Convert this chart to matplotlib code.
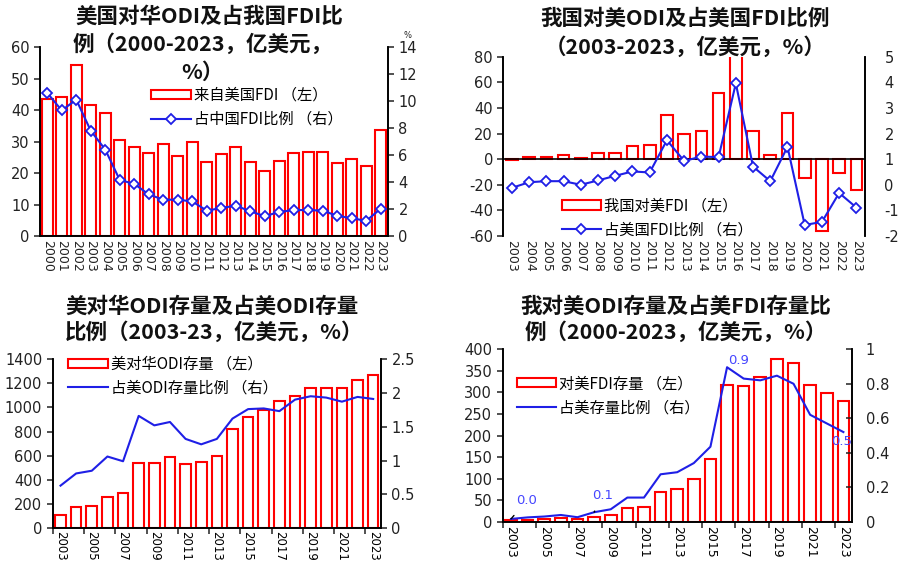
import matplotlib
matplotlib.use('Agg')
import matplotlib.pyplot as plt
from matplotlib.patches import Patch
from matplotlib.lines import Line2D
import numpy as np

plt.rcParams['font.family'] = 'DejaVu Sans'
plt.rcParams['axes.unicode_minus'] = False
CJK = ['Noto Sans CJK SC', 'DejaVu Sans']

# 图1：美国对华ODI及占我国FDI比例
years1 = [str(y) for y in range(2000, 2024)]
us_fdi = [43.6, 44.1, 54.2, 41.7, 39.1, 30.5, 28.4, 26.2, 29.2, 25.5, 29.9, 23.6,
          26.0, 28.2, 23.6, 20.7, 23.8, 26.4, 26.8, 26.8, 23.3, 24.4, 22.2, 33.7]
us_fdi_share = [10.6, 9.3, 10.1, 7.8, 6.4, 4.15, 3.86, 3.08, 2.69, 2.69, 2.56, 1.88,
                2.07, 2.25, 1.83, 1.47, 1.78, 1.92, 1.92, 1.88, 1.49, 1.32, 1.12, 2.03]

# 图2：我国对美ODI及占美国FDI比例
years2 = [str(y) for y in range(2003, 2024)]
cn_odi = [-1, 2, 2, 3, 1, 5, 5, 10, 11, 34.3, 19.5, 21.9, 51.8, 170, 22.1, 3.1,
          36.4, -15.1, -56, -10.7, -24.2]
cn_odi_share = [-0.12, 0.10, 0.14, 0.14, 0.0, 0.17, 0.35, 0.52, 0.48, 1.74, 0.93,
                1.10, 1.08, 3.96, 0.71, 0.14, 1.48, -1.57, -1.45, -0.32, -0.89]

# 图3：美对华ODI存量及占美ODI存量比例
years3 = [str(y) for y in range(2003, 2024)]
us_stock = [110, 174, 184, 261, 294, 540, 540, 592, 534, 545, 600, 823, 922, 978,
            1052, 1093, 1162, 1162, 1157, 1223, 1267]
us_stock_share = [0.63, 0.81, 0.85, 1.06, 0.99, 1.66, 1.52, 1.57, 1.32, 1.24, 1.32,
                  1.62, 1.76, 1.77, 1.73, 1.90, 1.95, 1.93, 1.87, 1.94, 1.91]

# 图4：我对美ODI存量及占美FDI存量比例
years4 = [str(y) for y in range(2003, 2024)]
cn_stock = [3, 4, 6, 8, 6, 10, 15.5, 31, 35, 70, 77, 100, 146, 318, 315, 336, 378,
            369, 318, 299, 280]
cn_stock_share = [0.016, 0.025, 0.03, 0.039, 0.026, 0.055, 0.072, 0.14, 0.14, 0.275,
                  0.287, 0.34, 0.435, 0.896, 0.83, 0.82, 0.847, 0.80, 0.62, 0.57, 0.52]

RED = '#ff0000'
BLUE = '#1f1fe6'
TXT = '#222222'

fig = plt.figure(figsize=(9.01, 5.66), dpi=100)


def setup(ax, axr):
    for a in (ax, axr):
        a.spines['top'].set_visible(False)
        for s in ('left', 'right', 'bottom'):
            a.spines[s].set_linewidth(1.2)
            a.spines[s].set_color('black')
        a.tick_params(labelsize=10.5, colors=TXT, width=1.1, length=4)
        a.set_facecolor('none')
    ax.set_zorder(axr.get_zorder() - 1)
    axr.patch.set_visible(False)


def bars_legend(ax, hb, hl, x, y):
    ax.legend([hb, hl], [hb.get_label(), hl.get_label()], loc='upper left',
              bbox_to_anchor=(x, y), frameon=False, borderpad=0, borderaxespad=0,
              handlelength=2.6, handleheight=0.55, handletextpad=0.2,
              labelspacing=0.45, prop={'family': CJK, 'size': 11})


def title(x, y, s, ha='center'):
    fig.text(x / 901, 1 - y / 566, s, ha=ha, va='center', fontsize=15.5,
             fontweight='bold', family=CJK, color='#111111')


# ---------- 图1 ----------
ax1 = fig.add_axes([40 / 901, 1 - 236 / 566, 348 / 901, 189 / 566])
ax1r = ax1.twinx()
setup(ax1, ax1r)
x1 = np.arange(len(years1))
ax1.bar(x1, us_fdi, width=0.78, facecolor='white', edgecolor=RED, linewidth=1.5)
ax1r.plot(x1, us_fdi_share, color=BLUE, lw=1.5, marker='D', ms=5, mfc='white',
          mec=BLUE, mew=1.3)
ax1.set_xlim(-0.5, len(years1) - 0.5)
ax1.set_ylim(0, 60)
ax1.set_yticks(range(0, 61, 10))
ax1r.set_ylim(0, 14)
ax1r.set_yticks(range(0, 15, 2))
ax1.set_xticks(x1)
ax1.set_xticklabels(years1, rotation=-90, fontsize=9)
ax1.tick_params(axis='x', length=0, pad=3)
fig.text(408 / 901, 1 - 35 / 566, '%', fontsize=6, ha='center', va='center', color=TXT)
hb = Patch(facecolor='white', edgecolor=RED, linewidth=1.5, label='来自美国FDI （左）')
hl = Line2D([], [], color=BLUE, lw=1.5, marker='D', ms=5, mfc='white', mec=BLUE,
            mew=1.3, label='占中国FDI比例 （右）')
bars_legend(ax1r, hb, hl, 0.32, 0.79)
title(209, 16, '美国对华ODI及占我国FDI比')
title(203, 44, '例（2000-2023，亿美元，')
title(202, 72, '%）')

# ---------- 图2 ----------
ax2 = fig.add_axes([503.3 / 901, 1 - 236 / 566, 361.7 / 901, 179.3 / 566])
ax2r = ax2.twinx()
setup(ax2, ax2r)
x2 = np.arange(len(years2))
ax2.bar(x2, cn_odi, width=0.68, facecolor='white', edgecolor=RED, linewidth=1.5)
ax2r.plot(x2, cn_odi_share, color=BLUE, lw=1.5, marker='D', ms=5, mfc='white',
          mec=BLUE, mew=1.3)
ax2.axhline(0, color='black', lw=1.2, zorder=3)
ax2.spines['bottom'].set_visible(False)
ax2r.spines['bottom'].set_visible(False)
ax2.set_xlim(-0.5, len(years2) - 0.5)
ax2.set_ylim(-60, 80)
ax2.set_yticks(range(-60, 81, 20))
ax2r.set_ylim(-2, 5)
ax2r.set_yticks(range(-2, 6))
ax2r.tick_params(axis='y', length=0, pad=14)
ax2.set_xticks(x2)
ax2.set_xticklabels(years2, rotation=-90, fontsize=9)
ax2.tick_params(axis='x', length=0, pad=3)
hb = Patch(facecolor='white', edgecolor=RED, linewidth=1.5, label='我国对美FDI （左）')
hl = Line2D([], [], color=BLUE, lw=1.5, marker='D', ms=5, mfc='white', mec=BLUE,
            mew=1.3, label='占美国FDI比例 （右）')
bars_legend(ax2r, hb, hl, 0.161, 0.215)
title(685, 18, '我国对美ODI及占美国FDI比例')
title(685, 47, '（2003-2023，亿美元，%）')

# ---------- 图3 ----------
ax3 = fig.add_axes([52.7 / 901, 1 - 528.3 / 566, 328.3 / 901, 169.3 / 566])
ax3r = ax3.twinx()
setup(ax3, ax3r)
x3 = np.arange(len(years3))
ax3.bar(x3, us_stock, width=0.68, facecolor='white', edgecolor=RED, linewidth=1.5)
ax3r.plot(x3, us_stock_share, color=BLUE, lw=1.5)
ax3.set_xlim(-0.5, len(years3) - 0.5)
ax3.set_ylim(0, 1400)
ax3.set_yticks(range(0, 1401, 200))
ax3r.set_ylim(0, 2.5)
ax3r.set_yticks([0, 0.5, 1, 1.5, 2, 2.5])
ax3r.set_yticklabels(['0', '0.5', '1', '1.5', '2', '2.5'])
ax3.set_xticks(np.arange(-0.5, len(years3), 2))
ax3.set_xticklabels([])
ax3.set_xticks(x3[::2], years3[::2], minor=True, rotation=-90, fontsize=8.5)
ax3.tick_params(axis='x', which='minor', length=0, pad=2)
hb = Patch(facecolor='white', edgecolor=RED, linewidth=1.5, label='美对华ODI存量 （左）')
hl = Line2D([], [], color=BLUE, lw=1.5, label='占美ODI存量比例 （右）')
bars_legend(ax3r, hb, hl, 0.0475, 1.02)
title(65, 306, '美对华ODI存量及占美ODI存量', ha='left')
title(65, 332, '比例（2003-23，亿美元，%）', ha='left')

# ---------- 图4 ----------
ax4 = fig.add_axes([502.7 / 901, 1 - 521.7 / 566, 349 / 901, 172.4 / 566])
ax4r = ax4.twinx()
setup(ax4, ax4r)
x4 = np.arange(len(years4))
ax4.bar(x4, cn_stock, width=0.7, facecolor='white', edgecolor=RED, linewidth=1.5)
ax4r.plot(x4, cn_stock_share, color=BLUE, lw=1.5)
ax4.set_xlim(-0.5, len(years4) - 0.5)
ax4.set_ylim(0, 400)
ax4.set_yticks(range(0, 401, 50))
ax4r.set_ylim(0, 1)
ax4r.set_yticks([0, 0.2, 0.4, 0.6, 0.8, 1])
ax4r.set_yticklabels(['0', '0.2', '0.4', '0.6', '0.8', '1'])
ax4r.tick_params(axis='y', direction='in', pad=10)
ax4.set_xticks(np.arange(-0.5, len(years4), 2))
ax4.set_xticklabels([])
ax4.set_xticks(x4[::2], years4[::2], minor=True, rotation=-90, fontsize=9)
ax4.tick_params(axis='x', which='minor', length=0, pad=3)
ann = dict(color='#4646ff', fontsize=9.5, ha='center', va='center')
ax4r.annotate('%.1f' % cn_stock_share[0], (x4[0], cn_stock_share[0]), xytext=(11, 13),
              textcoords='offset points',
              arrowprops=dict(arrowstyle='-', color='black', lw=1, shrinkA=5, shrinkB=0),
              **ann)
ax4r.annotate('%.1f' % cn_stock_share[5], (x4[5], cn_stock_share[5]), xytext=(6, 12),
              textcoords='offset points',
              arrowprops=dict(arrowstyle='-', color='black', lw=1, shrinkA=5, shrinkB=0),
              **ann)
ax4r.annotate('%.1f' % cn_stock_share[13], (x4[13], cn_stock_share[13]), xytext=(8, 5),
              textcoords='offset points', **ann)
ax4r.annotate('%.1f' % cn_stock_share[-1], (x4[-1], cn_stock_share[-1]), xytext=(-1, -7),
              textcoords='offset points', **ann)
hb = Patch(facecolor='white', edgecolor=RED, linewidth=1.5, label='对美FDI存量 （左）')
hl = Line2D([], [], color=BLUE, lw=1.5, label='占美存量比例 （右）')
bars_legend(ax4r, hb, hl, 0.04, 0.85)
title(676, 306, '我对美ODI存量及占美FDI存量比')
title(676, 332, '例（2000-2023，亿美元，%）')

fig.savefig('out.png', dpi=100, facecolor='white')
